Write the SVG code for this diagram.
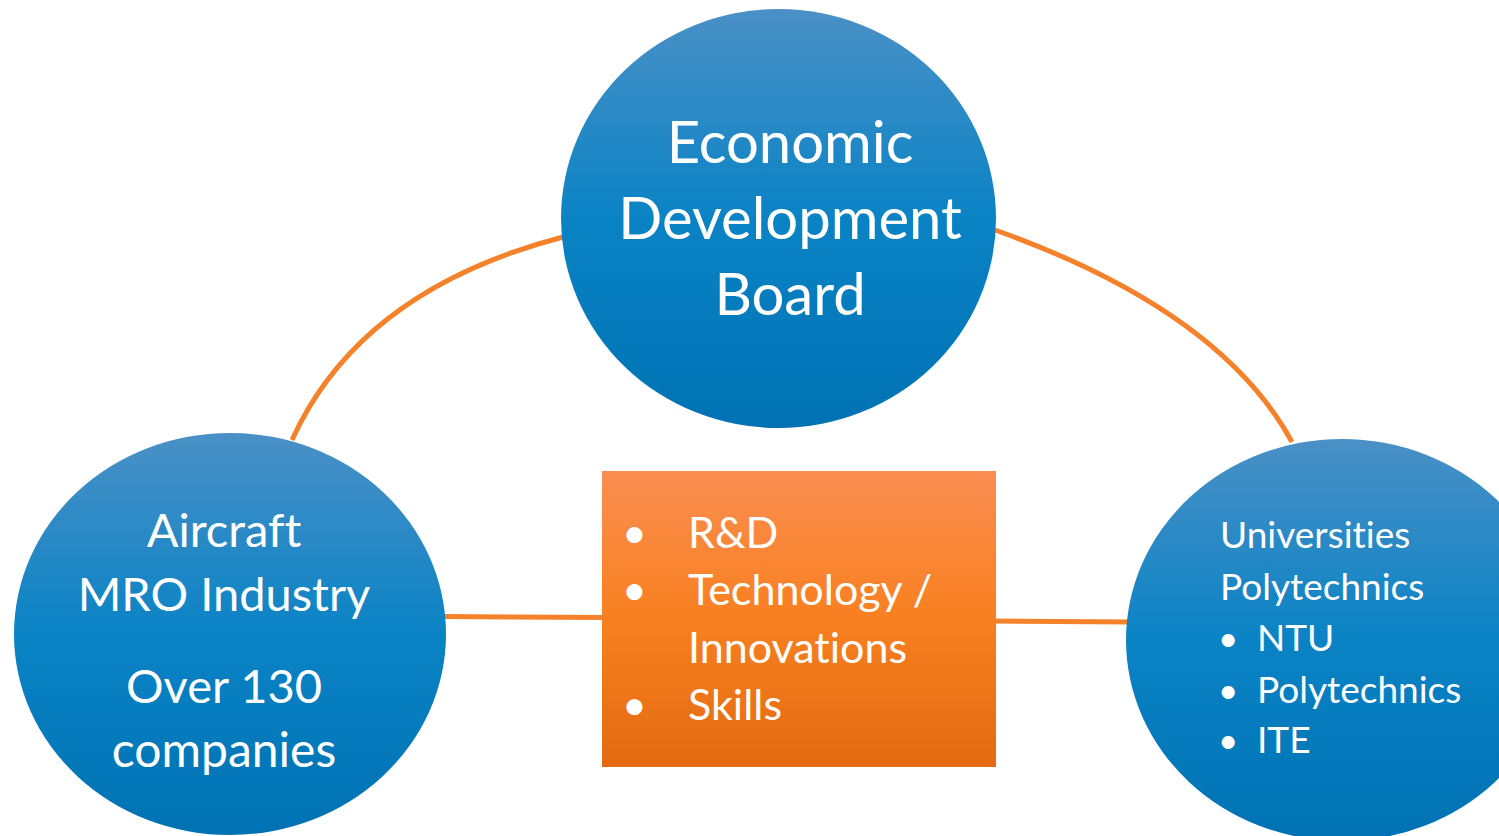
<svg xmlns="http://www.w3.org/2000/svg" width="1499" height="836" viewBox="0 0 1499 836">
<defs>
<linearGradient id="blue" x1="0" y1="0" x2="0" y2="1">
<stop offset="0" stop-color="#4A90C6"/>
<stop offset="0.5" stop-color="#0A83C5"/>
<stop offset="1" stop-color="#0072B3"/>
</linearGradient>
<linearGradient id="orange" x1="0" y1="0" x2="0" y2="1">
<stop offset="0" stop-color="#F98E52"/>
<stop offset="0.5" stop-color="#F98020"/>
<stop offset="1" stop-color="#E36A10"/>
</linearGradient>
<style>
.conn{fill:none;stroke:#F5822A;stroke-width:5}
.circ{fill:url(#blue)}
.box{fill:url(#orange)}
text{font-family:Lato,"Open Sans","Liberation Sans",sans-serif;fill:#FFFFFF;font-variant-ligatures:none}
.c{text-anchor:middle}
</style>
</defs>
<rect width="1499" height="836" fill="#FFFFFF"/>
<g id="connectors">
<path class="conn" d="M292 440 Q360 290 563 237"/>
<path class="conn" d="M995 230 Q1220 310 1292 442"/>
<path class="conn" d="M440 616.5 L610 617.5"/>
<path class="conn" d="M990 621 L1132 622"/>
</g>
<g id="edb">
<ellipse class="circ" cx="778.5" cy="218.5" rx="217.5" ry="209.5"/>
<text class="c" x="790" y="163" font-size="58">Economic</text>
<text class="c" x="790" y="239" font-size="58">Development</text>
<text class="c" x="790" y="315" font-size="58">Board</text>
</g>
<g id="mro">
<ellipse class="circ" cx="230" cy="634" rx="216" ry="201"/>
<text class="c" x="224" y="547" font-size="47">Aircraft</text>
<text class="c" x="224" y="611" font-size="47">MRO Industry</text>
<text class="c" x="224" y="703" font-size="47">Over 130</text>
<text class="c" x="224" y="767" font-size="48">companies</text>
</g>
<g id="universities">
<ellipse class="circ" cx="1342" cy="640" rx="216" ry="201"/>
<text x="1220" y="548" font-size="37">Universities</text>
<text x="1220" y="600" font-size="37">Polytechnics</text>
<text x="1218" y="651" font-size="35">•</text>
<text x="1257" y="651" font-size="37">NTU</text>
<text x="1218" y="703" font-size="35">•</text>
<text x="1257" y="703" font-size="37">Polytechnics</text>
<text x="1218" y="753" font-size="35">•</text>
<text x="1257" y="753" font-size="37">ITE</text>
</g>
<g id="focus">
<rect class="box" x="602" y="471" width="394" height="296"/>
<text x="622" y="548" font-size="43">•</text>
<text x="688" y="548" font-size="43">R&amp;D</text>
<text x="622" y="605" font-size="43">•</text>
<text x="688" y="605" font-size="43">Technology /</text>
<text x="688" y="663" font-size="43">Innovations</text>
<text x="622" y="720" font-size="43">•</text>
<text x="688" y="720" font-size="43">Skills</text>
</g>
</svg>
